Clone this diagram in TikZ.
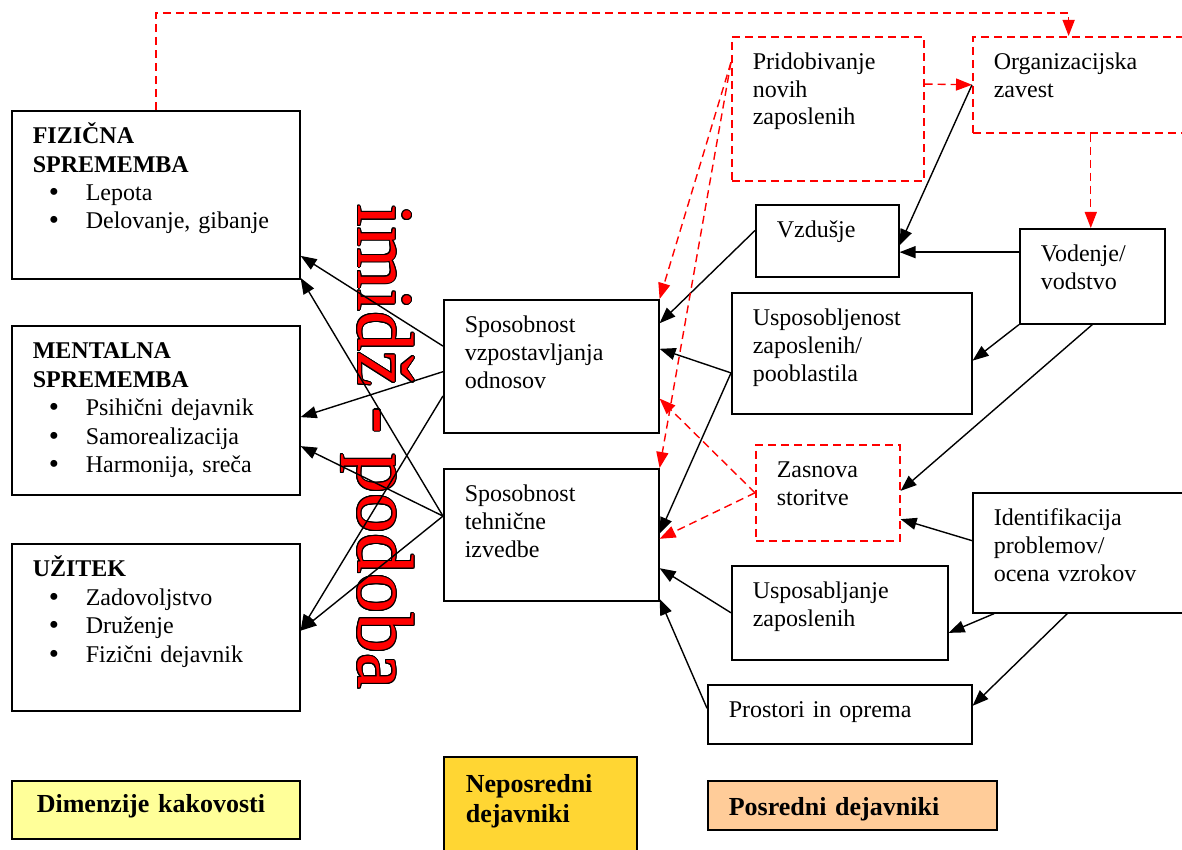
\documentclass[tikz,border=0pt]{standalone}
\usepackage{fontspec}
\setmainfont{Liberation Serif}
\usepackage{contour}
\usetikzlibrary{arrows.meta,calc}
\definecolor{legyel}{HTML}{FFFF99}
\definecolor{leggold}{HTML}{FFD633}
\definecolor{legora}{HTML}{FFCC99}
\contourlength{0.5pt}
\tikzset{
  box/.style={draw,line width=0.8pt,anchor=north west,align=left,inner xsep=10.5pt,
              inner ysep=0pt,text height=16.5pt,font=\fontsize{12}{13.8}\selectfont},
  lbox/.style={box,font=\fontsize{12}{14.2}\selectfont},
  dbox/.style={box,draw=red,dash pattern=on 4pt off 2.5pt},
  leg/.style={box,font=\fontsize{13}{15}\selectfont\bfseries},
  imidz/.style={rotate=-90,inner sep=0pt,text=red,font=\fontsize{40}{40}\selectfont},
  fl/.style={-{Triangle[length=8pt,width=6pt]},line width=0.7pt},
  rfl/.style={fl,red,dash pattern=on 4pt off 2.5pt},
}
\newcommand{\itm}[1]{\hspace*{8pt}\makebox[18.5pt][l]{\smash{\raisebox{-0.5pt}{\fontsize{14.5}{14.5}\selectfont\textbullet}}}#1}

\begin{document}
\begin{tikzpicture}[x=0.5pt,y=-0.5pt]
\useasboundingbox (0,0) rectangle (1182,850);
\clip (0,0) rectangle (1182,850);
\node[imidz] (imidz) at (377,447) {\contour{black}{imidž - podoba}};
% dimenzije kakovosti
\node[lbox,text width=123pt,text depth=67.5pt] (fiz) at (11,110)
  {\textbf{FIZIČNA}\\\textbf{SPREMEMBA}\\\itm{Lepota}\\\itm{Delovanje, gibanje}};
\node[lbox,text width=123pt,text depth=68pt] (ment) at (11,325)
  {\textbf{MENTALNA}\\\textbf{SPREMEMBA}\\\itm{Psihični dejavnik}\\\itm{Samorealizacija}\\\itm{Harmonija, sreča}};
\node[lbox,text width=123pt,text depth=67pt] (uzit) at (11,543)
  {\textbf{UŽITEK}\\\itm{Zadovoljstvo}\\\itm{Druženje}\\\itm{Fizični dejavnik}};
% neposredni dejavniki
\node[box,text width=86.5pt,text depth=50pt] (odn) at (443,299) {Sposobnost\\vzpostavljanja\\odnosov};
\node[box,text width=86.5pt,text depth=49.5pt] (teh) at (443,468) {Sposobnost\\tehnične\\izvedbe};
% posredni dejavniki
\node[dbox,text width=75pt,text depth=55.5pt] (prid) at (731,36) {Pridobivanje\\novih\\zaposlenih};
\node[dbox,text width=89pt,text depth=31.5pt] (org) at (972,36) {Organizacijska\\zavest};
\node[box,text width=50.5pt,text depth=19.5pt] (vzd) at (755,204) {Vzdušje};
\node[box,text width=51.5pt,text depth=31pt] (vod) at (1019,228) {Vodenje/\\vodstvo};
\node[box,text width=99pt,text depth=44pt] (usp) at (731,292) {Usposobljenost\\zaposlenih/\\pooblastila};
\node[dbox,text width=51pt,text depth=31.5pt] (zas) at (755,444) {Zasnova\\storitve};
\node[box,text width=89pt,text depth=43.5pt] (ident) at (972,492) {Identifikacija\\problemov/\\ocena vzrokov};
\node[box,text width=87pt,text depth=30.5pt] (uspz) at (731,565) {Usposabljanje\\zaposlenih};
\node[box,text width=111pt,text depth=13pt] (pros) at (707,684) {Prostori in oprema};
% legenda
\node[leg,fill=legyel,text width=119pt,inner xsep=12.5pt,text height=16pt,text depth=13pt] (dim) at (11,780) {Dimenzije kakovosti};
\node[leg,fill=leggold,text width=74.5pt,inner xsep=11pt,text height=18pt,text depth=40pt] (nep) at (443,756) {Neposredni\\dejavniki};
\node[leg,fill=legora,text width=123.5pt,text height=17.5pt,text depth=7pt] (pos) at (707,780) {Posredni dejavniki};
% neposredni -> dimenzije
\coordinate (tehw) at ($(teh.north west)!.36!(teh.south west)$);
\draw[fl] ($(odn.north west)!.35!(odn.south west)$) -- ($(fiz.north east)!.86!(fiz.south east)$);
\draw[fl] ($(odn.north west)!.54!(odn.south west)$) -- ($(ment.north east)!.54!(ment.south east)$);
\draw[fl] ($(odn.north west)!.72!(odn.south west)$) -- ($(uzit.north east)!.52!(uzit.south east)$);
\draw[fl] (tehw) -- ($(fiz.north east)!.99!(fiz.south east)$);
\draw[fl] (tehw) -- ($(ment.north east)!.71!(ment.south east)$);
\draw[fl] (tehw) -- ($(uzit.north east)!.52!(uzit.south east)$);
% posredni -> neposredni
\coordinate (uspw) at ($(usp.north west)!.66!(usp.south west)$);
\draw[fl] ($(vzd.north west)!.36!(vzd.south west)$) -- ($(odn.north east)!.18!(odn.south east)$);
\draw[fl] (uspw) -- ($(odn.north east)!.37!(odn.south east)$);
\draw[fl] (uspw) -- ($(teh.north east)!.49!(teh.south east)$);
\draw[fl] ($(uspz.north west)!.5!(uspz.south west)$) -- ($(teh.north east)!.75!(teh.south east)$);
\draw[fl] ($(pros.north west)!.4!(pros.south west)$) -- ($(teh.north east)!.98!(teh.south east)$);
% rdece
\coordinate (pridw) at ($(prid.north west)!.18!(prid.south west)$);
\coordinate (orgs) at ($(org.south west)!.536!(org.south east)$);
\draw[rfl] (pridw) -- (odn.north east);
\draw[rfl] (pridw) -- (teh.north east);
\draw[rfl] (zas.west) -- ($(odn.north east)!.74!(odn.south east)$);
\draw[rfl] (zas.west) -- ($(teh.north east)!.53!(teh.south east)$);
\draw[rfl] ($(prid.north east)!.33!(prid.south east)$) -- (org.west);
\draw[rfl] (fiz.north) -- ++(0,-97) -| ($(org.north west)!.436!(org.north east)$);
\draw[rfl] (orgs) -- (orgs |- vod.north);
% med posrednimi
\coordinate (vodw) at ($(vod.north west)!.25!(vod.south west)$);
\draw[fl] (org.west) -- ($(vzd.north east)!.56!(vzd.south east)$);
\draw[fl] (vodw) -- (vodw -| vzd.east);
\draw[fl] (vod.south west) -- ($(usp.north east)!.56!(usp.south east)$);
\draw[fl] (vod.south) -- ($(zas.north east)!.48!(zas.south east)$);
\draw[fl] ($(ident.north west)!.4!(ident.south west)$) -- ($(zas.north east)!.77!(zas.south east)$);
\draw[fl] ($(ident.south west)!.1!(ident.south east)$) -- ($(uspz.north east)!.71!(uspz.south east)$);
\draw[fl] ($(ident.south west)!.43!(ident.south east)$) -- ($(pros.north east)!.36!(pros.south east)$);
\end{tikzpicture}
\end{document}
